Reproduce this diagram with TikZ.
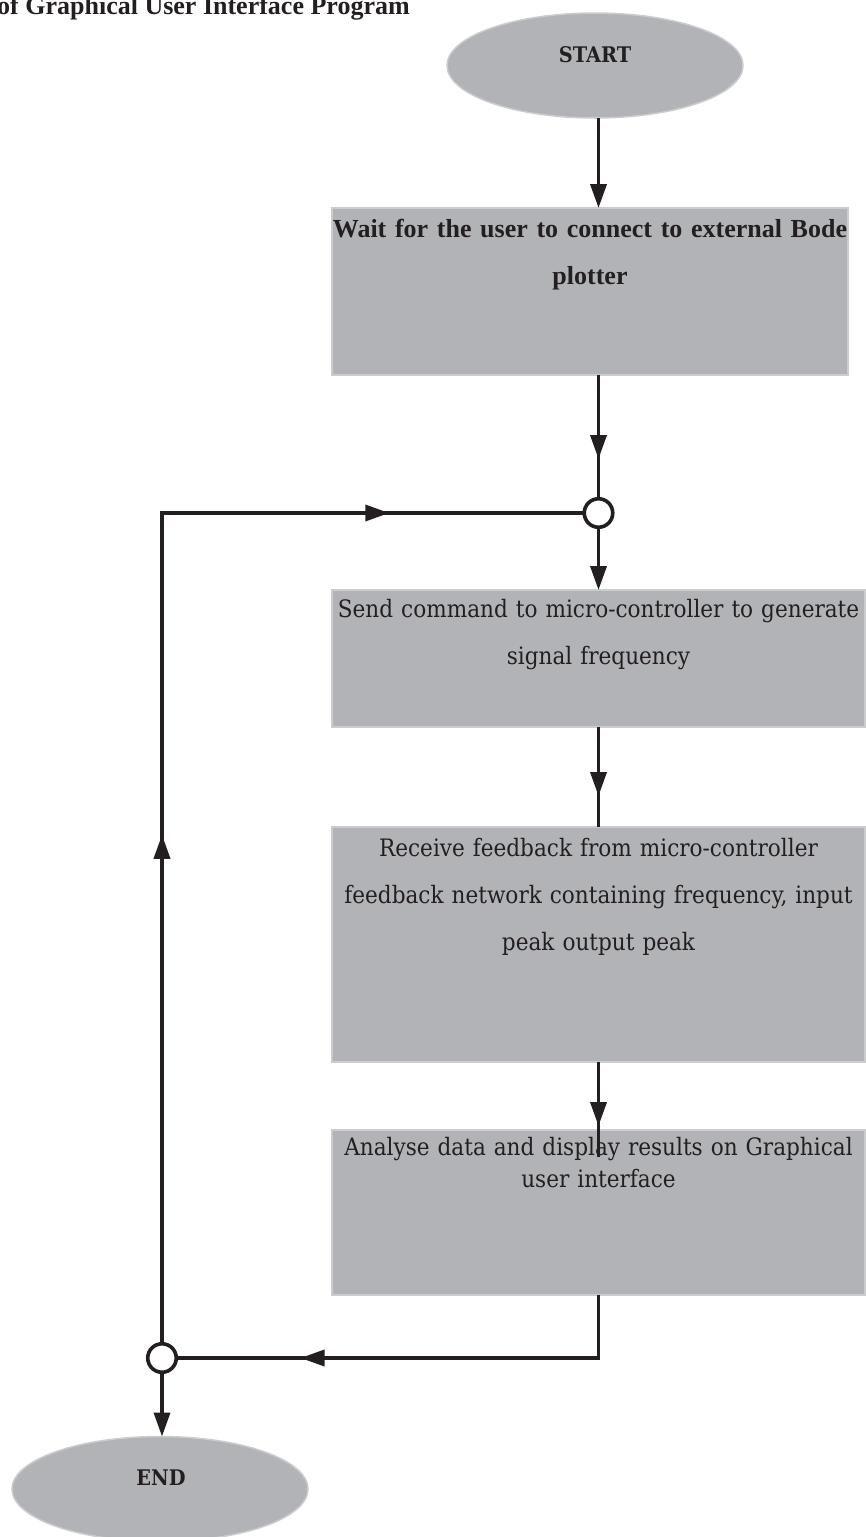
\documentclass[tikz,border=0pt]{standalone}
\usepackage{fontspec}
\setmainfont{DejaVu Serif Condensed}
\newfontfamily\timesf{Liberation Serif}
\usetikzlibrary{arrows.meta,decorations.markings,shapes.geometric}
\definecolor{boxgray}{HTML}{B2B3B7}
\definecolor{edgegray}{HTML}{CBCCCE}
\definecolor{ink}{HTML}{231F20}
\tikzset{
  procbox/.style={draw=edgegray, line width=1.5pt, fill=boxgray, inner sep=0pt, outer sep=0pt},
  termbox/.style={ellipse, draw=edgegray, line width=1.5pt, fill=boxgray, inner sep=0pt, outer sep=0pt,
    minimum width=296pt, minimum height=105pt},
  junction/.style={circle, draw=ink, line width=3.6pt, fill=white, minimum size=28.5pt, inner sep=0pt, outer sep=0pt},
  flow/.style={draw=ink, line width=3.6pt},
  tipend/.style={-{Triangle[length=24pt,width=16pt]}},
  boxtext/.style={text=ink, inner sep=0pt, anchor=base, align=center, text width=620pt,
    font=\fontsize{24}{47}\selectfont},
  termtext/.style={text=ink, inner sep=0pt, anchor=base, font=\bfseries\fontsize{21.5}{24}\selectfont},
  midarrow/.style={postaction={decorate}, decoration={markings,
    mark=at position #1 with {\arrow{Triangle[length=24pt,width=16pt]}}}},
  twoarrows/.style 2 args={postaction={decorate}, decoration={markings,
    mark=at position #1 with {\arrow{Triangle[length=24pt,width=16pt]}},
    mark=at position #2 with {\arrow{Triangle[length=24pt,width=16pt]}}}}
}
\begin{document}
\begin{tikzpicture}[x=1pt,y=-1pt]
\useasboundingbox (0,0) rectangle (865,1537);
% title (cut by the page edge)
\node[text=ink, inner sep=0pt, anchor=base west, font=\timesf\bfseries\fontsize{26}{30}\selectfont]
  (title) at (-3,14) {of Graphical User Interface Program};
% terminals
\node[termbox] (start) at (595,65.5) {};
\node[termtext] (starttxt) at (595,62) {START};
\node[termbox] (endn) at (160,1489) {};
\node[termtext] (endtxt) at (161,1485) {END};
% process boxes
\node[procbox, minimum width=516pt, minimum height=167pt] (b1) at (590,291.5) {};
\node[procbox, minimum width=533pt, minimum height=137pt] (b2) at (598.5,658.5) {};
\node[procbox, minimum width=533pt, minimum height=235pt] (b3) at (598.5,944.5) {};
\node[procbox, minimum width=533pt, minimum height=165pt] (b4) at (598.5,1212.5) {};
% junctions
\node[junction] (c1) at (598.5,513) {};
\node[junction] (c2) at (162,1358) {};
\coordinate (b4in) at (598.5,1157);
\coordinate (turnR) at (598.5,1358);
\coordinate (turnL) at (162,513);
% connectors
\draw[flow, tipend] (start.south -| c1.north) -- (b1.north -| c1.north);
\draw[flow, midarrow=84pt] (b1.south -| c1.north) -- (c1.north);
\draw[flow, tipend] (c1.south) -- (b2.north -| c1.south);
\draw[flow, midarrow=69pt] (b2.south -| c1.south) -- (b3.north -| c1.south);
\draw[flow, midarrow=64pt] (b3.south -| c1.south) -- (b4in);
\draw[flow, midarrow=361pt] (b4.south -| c1.south) -- (turnR) -- (c2.east);
\draw[flow, twoarrows={509pt}{1058pt}] (c2.north) -- (turnL) -- (c1.west);
\draw[flow, tipend] (c2.south) -- (c2.south |- endn.north);
% texts
\node[boxtext, font=\timesf\bfseries\fontsize{26}{47}\selectfont] (t1) at (590,237)
  {Wait for the user to connect to external Bode\\plotter};
\node[boxtext] (t2) at (598.5,617)
  {Send command to micro-controller to generate\\signal frequency};
\node[boxtext] (t3) at (598.5,856)
  {Receive feedback from micro-controller\\feedback network containing frequency, input\\peak output peak};
\node[boxtext, font=\fontsize{24}{32}\selectfont] (t4) at (598.5,1155)
  {Analyse data and display results on Graphical\\user interface};
\end{tikzpicture}
\end{document}
